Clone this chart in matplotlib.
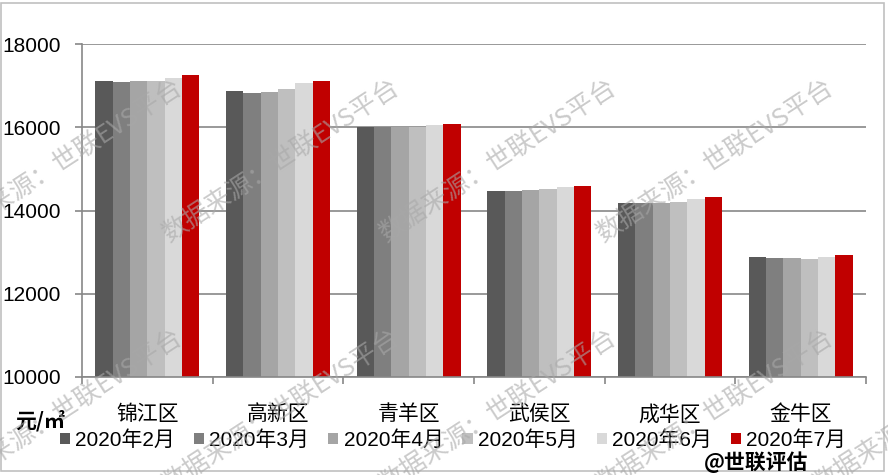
import numpy as np
import matplotlib
matplotlib.use('Agg')
import matplotlib.pyplot as plt
from matplotlib.patches import Rectangle

plt.rcParams['font.family'] = ['Liberation Sans', 'Noto Sans CJK SC', 'DejaVu Sans']

districts = ['锦江区', '高新区', '青羊区', '武侯区', '成华区', '金牛区']
months = ['2020年2月', '2020年3月', '2020年4月', '2020年5月', '2020年6月', '2020年7月']
price_feb = [17110, 16870, 16010, 14470, 14170, 12890]
price_mar = [17090, 16820, 16000, 14470, 14170, 12860]
price_apr = [17110, 16840, 16000, 14490, 14170, 12860]
price_may = [17110, 16920, 16000, 14510, 14200, 12840]
price_jun = [17180, 17060, 16050, 14570, 14270, 12890]
price_jul = [17260, 17110, 16080, 14580, 14320, 12920]
series = [price_feb, price_mar, price_apr, price_may, price_jun, price_jul]
colors = ['#595959', '#7f7f7f', '#a5a5a5', '#bfbfbf', '#d9d9d9', '#c00000']

fig = plt.figure(figsize=(8.88, 4.75), dpi=100)
ax = fig.add_axes([82 / 888, 1 - 377 / 475, (866 - 82) / 888, (377 - 44) / 475])

x = np.arange(len(districts))
w = 0.796 / len(series)
for i, (vals, c, m) in enumerate(zip(series, colors, months)):
    ax.bar(x + (i - 2.5) * w, vals, width=w, color=c, label=m, zorder=2)

ax.set_xlim(-0.5, len(districts) - 0.5)
ax.set_ylim(10000, 18000)
ax.set_yticks([10000, 12000, 14000, 16000, 18000])
ax.yaxis.grid(True, color='#878787', linewidth=1.2, zorder=0)
ax.set_axisbelow(True)

ax.set_xticks(x)
ax.set_xticklabels(districts, fontsize=15, family=['Noto Sans CJK SC'])
ax.set_xticks(np.arange(len(districts) + 1) - 0.5, minor=True)
ax.tick_params(axis='x', which='major', length=0, pad=19)
ax.tick_params(axis='x', which='minor', length=5, color='#878787', width=1.2)
ax.tick_params(axis='y', length=5, color='#878787', width=1.2, pad=10, labelsize=15)

for s in ['top', 'right']:
    ax.spines[s].set_visible(False)
for s in ['left', 'bottom']:
    ax.spines[s].set_color('#878787')
    ax.spines[s].set_linewidth(1.2)

leg = fig.legend(loc='center', bbox_to_anchor=(453 / 888, 1 - 440 / 475), ncol=6,
                 frameon=False, fontsize=15, handlelength=0.5, handleheight=0.5,
                 handletextpad=0.25, columnspacing=0.9)

fig.text(15 / 888, 1 - 421 / 475, '元/㎡', fontsize=15, fontweight='bold',
         family=['Noto Sans CJK SC'], ha='left', va='center')
fig.text(704 / 888, 1 - 462 / 475, '@世联评估', fontsize=15, fontweight='bold',
         family=['Noto Sans CJK SC'], ha='left', va='center')

# watermark, tiled
wm = '数据来源：世联EVS平台'
wm_pos = [(64, 162), (281, 162), (498, 162), (715, 162),
          (64, 412), (281, 412), (498, 412), (715, 412), (932, 412)]
for cx, cy in wm_pos:
    fig.text(cx / 888, 1 - cy / 475, wm, fontsize=18.5, color='#a8a8a8', alpha=0.6,
             rotation=33, rotation_mode='anchor', ha='center', va='center',
             family=['Noto Sans CJK SC'], fontweight='light', zorder=10)

fig.patches.append(Rectangle((1 / 888, 1 - 471 / 475), 883 / 888, 468 / 475,
                             transform=fig.transFigure, fill=False,
                             edgecolor='#c0c0c0', linewidth=1.2))

fig.savefig('out.png', dpi=100)
